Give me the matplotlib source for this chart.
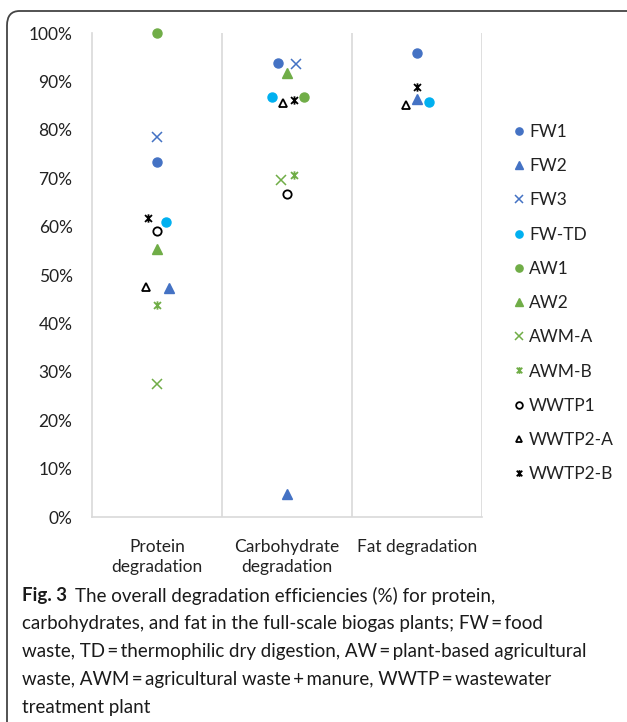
import numpy as np
import matplotlib
matplotlib.use('Agg')
import matplotlib.pyplot as plt
from matplotlib.path import Path
from matplotlib.patches import FancyBboxPatch
from matplotlib.ticker import PercentFormatter

plt.rcParams['font.family'] = ['Lato', 'DejaVu Sans']

categories = ['Protein\ndegradation', 'Carbohydrate\ndegradation', 'Fat degradation']
series = ['FW1', 'FW2', 'FW3', 'FW-TD', 'AW1', 'AW2', 'AWM-A', 'AWM-B', 'WWTP1', 'WWTP2-A', 'WWTP2-B']

# degradation efficiency (fraction) per series: protein, carbohydrate, fat (nan = no value)
FW1 = [0.733, 0.939, 0.958]
FW2 = [0.474, 0.048, 0.863]
FW3 = [0.785, 0.936, np.nan]
FW_TD = [0.610, 0.867, 0.857]
AW1 = [1.000, 0.867, np.nan]
AW2 = [0.553, 0.917, np.nan]
AWM_A = [0.275, 0.696, np.nan]
AWM_B = [0.438, 0.707, np.nan]
WWTP1 = [0.590, 0.667, np.nan]
WWTP2_A = [0.476, 0.856, 0.851]
WWTP2_B = [0.617, 0.862, 0.888]
values = [FW1, FW2, FW3, FW_TD, AW1, AW2, AWM_A, AWM_B, WWTP1, WWTP2_A, WWTP2_B]

# small horizontal offsets so overlapping points stay visible
offsets = [
    [0.0, -0.072, 0.0],
    [0.09, 0.0, 0.0],
    [0.0, 0.067, 0.0],
    [0.07, -0.113, 0.09],
    [0.0, 0.133, 0.0],
    [0.0, 0.0, 0.0],
    [0.0, -0.046, 0.0],
    [0.0, 0.054, 0.0],
    [0.0, 0.0, 0.0],
    [-0.087, -0.033, -0.085],
    [-0.072, 0.05, 0.0],
]

# excel-like star marker: x with a vertical bar
star = Path([(-1, -1), (1, 1), (-1, 1), (1, -1), (0, -1.2), (0, 1.2)],
            [Path.MOVETO, Path.LINETO, Path.MOVETO, Path.LINETO, Path.MOVETO, Path.LINETO])

blue = '#4472C4'
cyan = '#00B0F0'
green = '#70AD47'
styles = [
    dict(marker='o', color=blue, mfc=blue, ms=6.5),
    dict(marker='^', color=blue, mfc=blue, ms=6.5),
    dict(marker='x', color=blue, mfc=blue, ms=7, mew=1.1),
    dict(marker='o', color=cyan, mfc=cyan, ms=6.5),
    dict(marker='o', color=green, mfc=green, ms=6.5),
    dict(marker='^', color=green, mfc=green, ms=7),
    dict(marker='x', color=green, mfc=green, ms=7, mew=1.1),
    dict(marker=star, color=green, mfc=green, ms=6, mew=1.3),
    dict(marker='o', color='black', mfc='none', ms=6, mew=1.3),
    dict(marker='^', color='black', mfc='none', ms=6, mew=1.3),
    dict(marker=star, color='black', mfc='black', ms=6, mew=1.3),
]

fig = plt.figure(figsize=(6.27, 7.22), dpi=100)

# rounded frame around figure + caption (right and bottom edges run off the image)
frame = FancyBboxPatch((7 / 627, -20 / 722), 640 / 627, 731 / 722,
                       boxstyle='round,pad=0,rounding_size=0.02',
                       transform=fig.transFigure, fill=False,
                       edgecolor='#444444', linewidth=1.3, clip_on=False)
fig.patches.append(frame)

ax = fig.add_axes([92 / 627, 1 - 517 / 722, 390 / 627, 484 / 722])
x = np.arange(1, len(categories) + 1)
for name, vals, off, st in zip(series, values, offsets, styles):
    ax.plot(x + np.array(off), vals, linestyle='none', label=name, clip_on=False, **st)

ax.set_xlim(0.5, 3.5)
ax.set_ylim(0, 1.0)
ax.yaxis.set_major_formatter(PercentFormatter(1.0, decimals=0))
ax.set_yticks(np.arange(0, 1.01, 0.1))
ax.set_xticks(x)
ax.set_xticklabels(categories, fontsize=12.5, color='#222222', linespacing=1.3)
ax.tick_params(axis='y', length=0, pad=14, labelsize=12.5, labelcolor='#222222')
ax.tick_params(axis='x', length=0, pad=16)
for xv in [1.5, 2.5, 3.5]:
    ax.axvline(xv, color='#D9D9D9', linewidth=1.2, zorder=0)
for s in ['top', 'right']:
    ax.spines[s].set_visible(False)
for s in ['left', 'bottom']:
    ax.spines[s].set_color('#D9D9D9')
    ax.spines[s].set_linewidth(1.2)

leg = fig.legend(loc='upper left', bbox_to_anchor=(504 / 627, 1 - 117 / 722),
                 frameon=False, fontsize=12.5, handletextpad=0.15, markerscale=0.8,
                 handlelength=0.9, labelspacing=1.05, borderaxespad=0)
for t in leg.get_texts():
    t.set_color('#222222')

# caption
cap_x = 22 / 627
line_y = [596, 624, 652, 680, 707]
fs = 13.5
bold = fig.text(cap_x, 1 - line_y[0] / 722, 'Fig. 3', fontsize=fs, fontweight='bold',
                va='center', ha='left', color='#1a1a1a')
fig.canvas.draw()
bb = bold.get_window_extent()
fig.text((bb.x1 + 8) / 627, 1 - line_y[0] / 722,
         'The overall degradation efficiencies (%) for protein,',
         fontsize=fs, va='center', ha='left', color='#1a1a1a')
rest = [
    'carbohydrates, and fat in the full-scale biogas plants; FW\u2009=\u2009food',
    'waste, TD\u2009=\u2009thermophilic dry digestion, AW\u2009=\u2009plant-based agricultural',
    'waste, AWM\u2009=\u2009agricultural waste\u2009+\u2009manure, WWTP\u2009=\u2009wastewater',
    'treatment plant',
]
for yy, line in zip(line_y[1:], rest):
    fig.text(cap_x, 1 - yy / 722, line, fontsize=fs, va='center', ha='left', color='#1a1a1a')

fig.savefig('out.png', dpi=100)
